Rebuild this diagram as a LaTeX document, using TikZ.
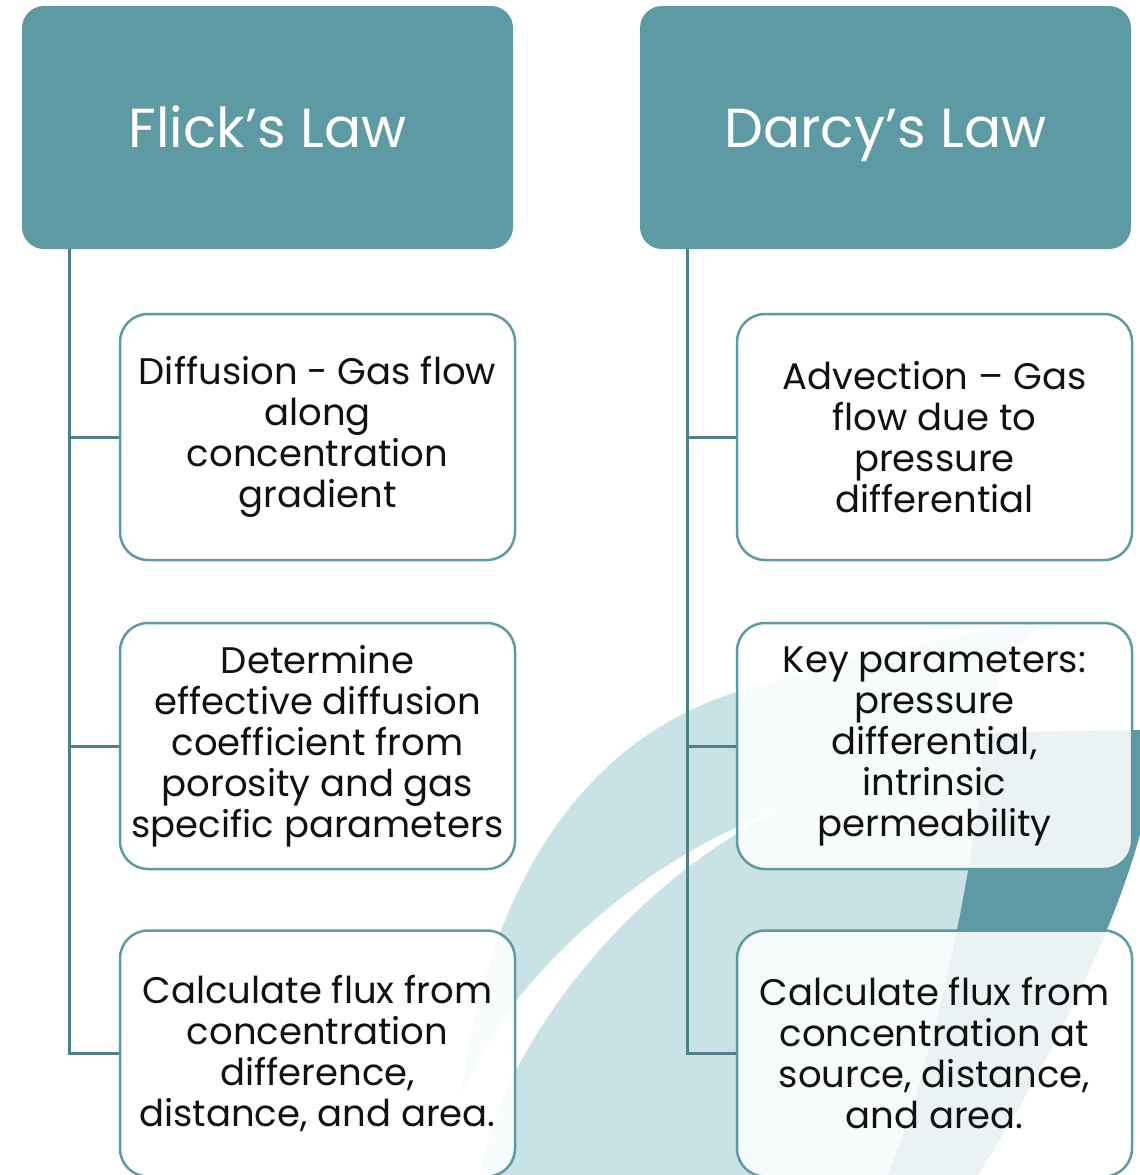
\documentclass[tikz,border=0pt]{standalone}
\usepackage{fontspec}
\setmainfont{Poppins}
\definecolor{tealA}{HTML}{5E9AA3}
\definecolor{ltealA}{HTML}{C9E2E5}
\definecolor{trunkc}{HTML}{4F8088}
\definecolor{txtc}{HTML}{111111}
\begin{document}
\begin{tikzpicture}[x=1pt,y=-1pt,
 head/.style={fill=tealA, rounded corners=22pt, minimum width=491pt, minimum height=243pt, inner sep=0pt, text=white, text height=39pt, text depth=0pt, font=\fontsize{55}{62}\selectfont},
 card/.style={draw=tealA, line width=2.5pt, fill=white, fill opacity=0.88, text opacity=1, rounded corners=28pt, minimum width=395pt, minimum height=246pt, inner sep=0pt, align=center, text=txtc, font=\fontsize{37}{41}\selectfont},
 trunk/.style={draw=trunkc, line width=3pt}]
\useasboundingbox (0,0) rectangle (1140,1175);
\fill[white] (0,0) rectangle (1140,1175);
% light teal swoosh
\fill[ltealA] (455,1180) .. controls (465,900) and (580,740) .. (737,692)
  .. controls (830,664) and (960,630) .. (1043,623)
  .. controls (1010,650) and (990,690) .. (983,740)
  .. controls (980,850) and (930,1080) .. (885,1180) -- cycle;
% white swoosh
\fill[white] (775,812) .. controls (680,845) and (580,920) .. (517,1000)
  .. controls (480,1050) and (450,1110) .. (430,1180) -- (478,1180)
  .. controls (490,1130) and (505,1090) .. (517,1068)
  .. controls (580,950) and (680,860) .. (775,812) -- cycle;
% dark band
\fill[tealA] (983,740) .. controls (985,733) and (995,732) .. (1010,732) -- (1145,730)
  -- (1145,815) .. controls (1125,900) and (1070,1030) .. (975,1180) -- (885,1180)
  .. controls (930,1080) and (980,850) .. (983,740) -- cycle;
% headers
\node[head] (fl) at (267.5,127.5) {Flick’s Law};
\node[head] (dl) at (885.5,127.5) {Darcy’s Law};
\coordinate (tl) at ([xshift=48pt]fl.south west);
\coordinate (tr) at ([xshift=48pt]dl.south west);
% card positions
\path (317.5,437) coordinate (pl1) (317.5,746) coordinate (pl2) (317.5,1053.5) coordinate (pl3)
      (934.5,437) coordinate (pr1) (934.5,746) coordinate (pr2) (934.5,1053.5) coordinate (pr3);
\node[card] (l1) at (pl1) {Diffusion - Gas flow\\along\\concentration\\gradient};
\node[card] (l2) at (pl2) {Determine\\effective diffusion\\coefficient from\\porosity and gas\\specific parameters};
\node[card] (l3) at (pl3) {Calculate flux from\\concentration\\difference,\\distance, and area.};
\node[card] (r1) at (pr1) {Advection – Gas\\flow due to\\pressure\\differential};
\node[card] (r2) at (pr2) {Key parameters:\\pressure\\differential,\\intrinsic\\permeability};
\node[card] (r3) at (pr3) {Calculate flux from\\concentration at\\source, distance,\\and area.};
% trunks
\draw[trunk] (tl) |- (l3.west);
\draw[trunk] (tl |- l1.west) -- (l1.west);
\draw[trunk] (tl |- l2.west) -- (l2.west);
\draw[trunk] (tr) |- (r3.west);
\draw[trunk] (tr |- r1.west) -- (r1.west);
\draw[trunk] (tr |- r2.west) -- (r2.west);
\end{tikzpicture}
\end{document}
